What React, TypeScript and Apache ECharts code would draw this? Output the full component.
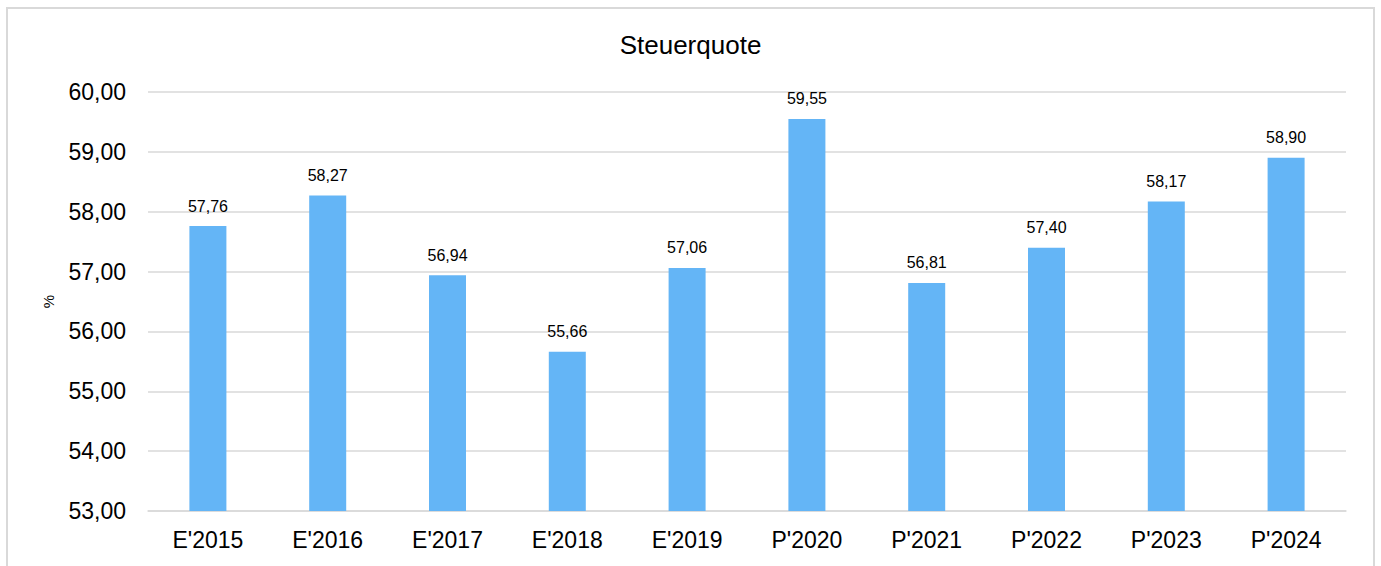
import React, { useEffect, useRef } from "react";
import * as echarts from "echarts";

const categories = ["E'2015", "E'2016", "E'2017", "E'2018", "E'2019", "P'2020", "P'2021", "P'2022", "P'2023", "P'2024"];
const values = [57.76, 58.27, 56.94, 55.66, 57.06, 59.55, 56.81, 57.4, 58.17, 58.9];
const chartTitle = "Steuerquote";
const yAxisName = "%";
const yMin = 53;
const yMax = 60;
const yInterval = 1;

const fmt = (v: number) => v.toFixed(2).replace(".", ",");

export default function App() {
  const ref = useRef<HTMLDivElement>(null);
  useEffect(() => {
    if (!ref.current) return;
    const chart = echarts.init(ref.current, undefined, { renderer: "svg" });
    const font = "Liberation Sans, Arial, sans-serif";
    chart.setOption({
      animation: false,
      textStyle: { fontFamily: font, color: "#000" },
      title: {
        text: chartTitle,
        left: "center",
        top: 27,
        textStyle: { fontFamily: font, fontSize: 26, fontWeight: "normal", color: "#000" },
      },
      grid: { left: 148, right: 35, top: 92, bottom: 55, containLabel: false },
      xAxis: {
        type: "category",
        data: categories,
        axisLine: { show: true, lineStyle: { color: "#d9d9d9", width: 1.5 } },
        axisTick: { show: false },
        axisLabel: { fontFamily: font, fontSize: 23, color: "#000", margin: 17 },
      },
      yAxis: {
        type: "value",
        min: yMin,
        max: yMax,
        interval: yInterval,
        name: yAxisName,
        nameLocation: "middle",
        nameGap: 92,
        nameRotate: 90,
        nameTextStyle: { fontFamily: font, fontSize: 15, color: "#000" },
        axisLine: { show: false },
        axisTick: { show: false },
        splitLine: { lineStyle: { color: "#d9d9d9", width: 1.5 } },
        axisLabel: { fontFamily: font, fontSize: 23, color: "#000", margin: 22, formatter: (v: number) => fmt(v) },
      },
      series: [
        {
          type: "bar",
          data: values,
          barWidth: 37,
          itemStyle: { color: "#64B5F6" },
          label: {
            show: true,
            position: "top",
            distance: 12,
            fontFamily: font,
            fontSize: 16,
            color: "#000",
            formatter: (p: any) => fmt(p.value),
          },
        },
      ],
    });
    return () => chart.dispose();
  }, []);
  return (
    <div style={{ position: "fixed", left: 0, top: 0, width: 1381, height: 566, overflow: "hidden", background: "#fff" }}>
      <div
        style={{
          position: "absolute",
          left: 6,
          top: 7,
          width: 1369,
          height: 620,
          border: "2px solid #d9d9d9",
          boxSizing: "border-box",
        }}
      />
      <div ref={ref} style={{ position: "absolute", left: 0, top: 0, width: 1381, height: 566 }} />
    </div>
  );
}
